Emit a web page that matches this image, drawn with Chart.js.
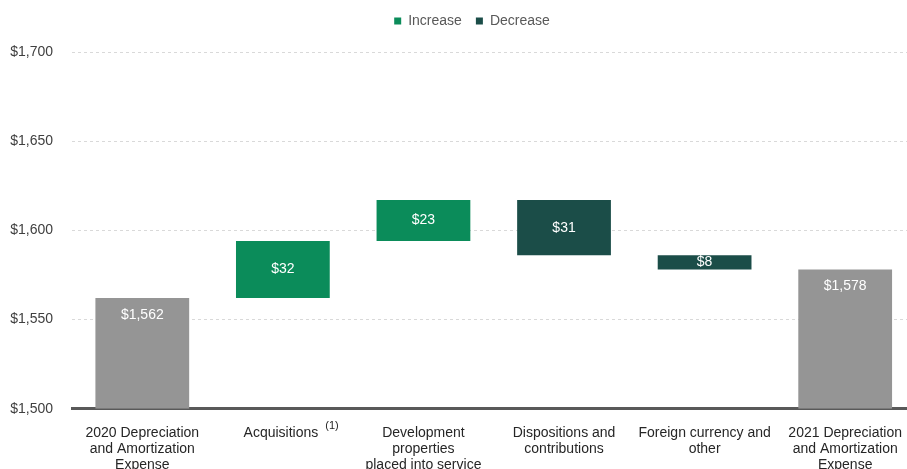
<!DOCTYPE html>
<html>
<head>
<meta charset="utf-8">
<script src="https://cdn.jsdelivr.net/npm/chart.js@4"></script>
<style>
  html, body { margin: 0; padding: 0; background: #fff; overflow: hidden; }
  #wrap { width: 918px; height: 489px; position: relative; }
</style>
</head>
<body>
<div id="wrap"><canvas id="c"></canvas></div>
<script>
const categories = [
  ["2020 Depreciation", "and Amortization", "Expense"],
  ["Acquisitions "],
  ["Development", "properties", "placed into service"],
  ["Dispositions and", "contributions"],
  ["Foreign currency and", "other"],
  ["2021 Depreciation", "and Amortization", "Expense"]
];
const footnote = "(1)";
const totals = [[1500, 1562], null, null, null, null, [1500, 1578]];
const increases = [null, [1562, 1594], [1594, 1617], null, null, null];
const decreases = [null, null, null, [1586, 1617], [1578, 1586], null];
const labels = ["$1,562", "$32", "$23", "$31", "$8", "$1,578"];
const yTicks = [1500, 1550, 1600, 1650, 1700];

const FONT = "'Liberation Sans', Arial, sans-serif";

const labelPlugin = {
  id: 'barLabels',
  beforeInit(chart) {
    const lg = chart.legend;
    const origFit = lg.fit;
    lg.fit = function () {
      origFit.call(this);
      this.height += 14;
    };
    const origDraw = lg.draw;
    lg.draw = function () {
      const ctx = this.ctx;
      ctx.save();
      ctx.translate(8, 0);
      origDraw.call(this);
      ctx.restore();
    };
  },
  afterDatasetsDraw(chart) {
    const ctx = chart.ctx;
    ctx.save();
    ctx.font = '14px ' + FONT;
    ctx.fillStyle = '#ffffff';
    ctx.textAlign = 'center';
    ctx.textBaseline = 'middle';
    chart.data.datasets.forEach((ds, di) => {
      const meta = chart.getDatasetMeta(di);
      meta.data.forEach((bar, i) => {
        if (ds.data[i] == null) return;
        const top = Math.min(bar.y, bar.base);
        const bottom = Math.max(bar.y, bar.base);
        let y = (top + bottom) / 2;
        if (di === 0) y = top + 17;
        ctx.fillText(labels[i], bar.x, y);
      });
    });
    // footnote marker after "Acquisitions"
    const xs = chart.scales.x;
    const xc = xs.getPixelForTick(1);
    ctx.font = '14px ' + FONT;
    const full = ctx.measureText(categories[1][0]).width;
    const word = ctx.measureText(categories[1][0].trimEnd()).width;
    const left = xc - full / 2;
    ctx.font = '11px ' + FONT;
    ctx.fillStyle = '#262626';
    ctx.textAlign = 'left';
    ctx.fillText(footnote, left + word + 7, xs.top + 16 + 8 - 7);
    ctx.restore();
  }
};

new Chart(document.getElementById('c'), {
  type: 'bar',
  data: {
    labels: categories,
    datasets: [
      { label: 'Total', data: totals, backgroundColor: '#959595' },
      { label: 'Increase', data: increases, backgroundColor: '#0b8c5a' },
      { label: 'Decrease', data: decreases, backgroundColor: '#1b4d48' }
    ]
  },
  options: {
    responsive: true,
    maintainAspectRatio: false,
    animation: false,
    categoryPercentage: 1,
    barPercentage: 0.667,
    layout: { padding: { left: 10, right: 0, top: 0, bottom: 0 } },
    plugins: {
      tooltip: { enabled: false },
      legend: {
        position: 'top',
        labels: {
          filter: (item) => item.text !== 'Total',
          boxWidth: 7,
          boxHeight: 7,
          color: '#595959',
          font: { family: FONT, size: 14 },
          padding: 14
        }
      }
    },
    scales: {
      x: {
        stacked: true,
        grid: { display: false, drawTicks: false },
        border: { display: true, color: '#595959', width: 3 },
        ticks: {
          color: '#262626',
          font: { family: FONT, size: 14, lineHeight: 1.15 },
          padding: 16,
          maxRotation: 0,
          autoSkip: false
        }
      },
      y: {
        min: 1500,
        max: 1700,
        afterBuildTicks: (scale) => { scale.ticks = yTicks.map(v => ({ value: v })); },
        afterFit: (scale) => { scale.width = 62; },
        grid: { color: '#d9d9d9', drawTicks: false, lineWidth: 1 },
        border: { display: false, dash: [3, 3] },
        ticks: {
          color: '#404040',
          font: { family: FONT, size: 14 },
          padding: 19,
          callback: (v) => '$' + v.toLocaleString('en-US')
        }
      }
    }
  },
  plugins: [labelPlugin]
});
</script>
</body>
</html>
